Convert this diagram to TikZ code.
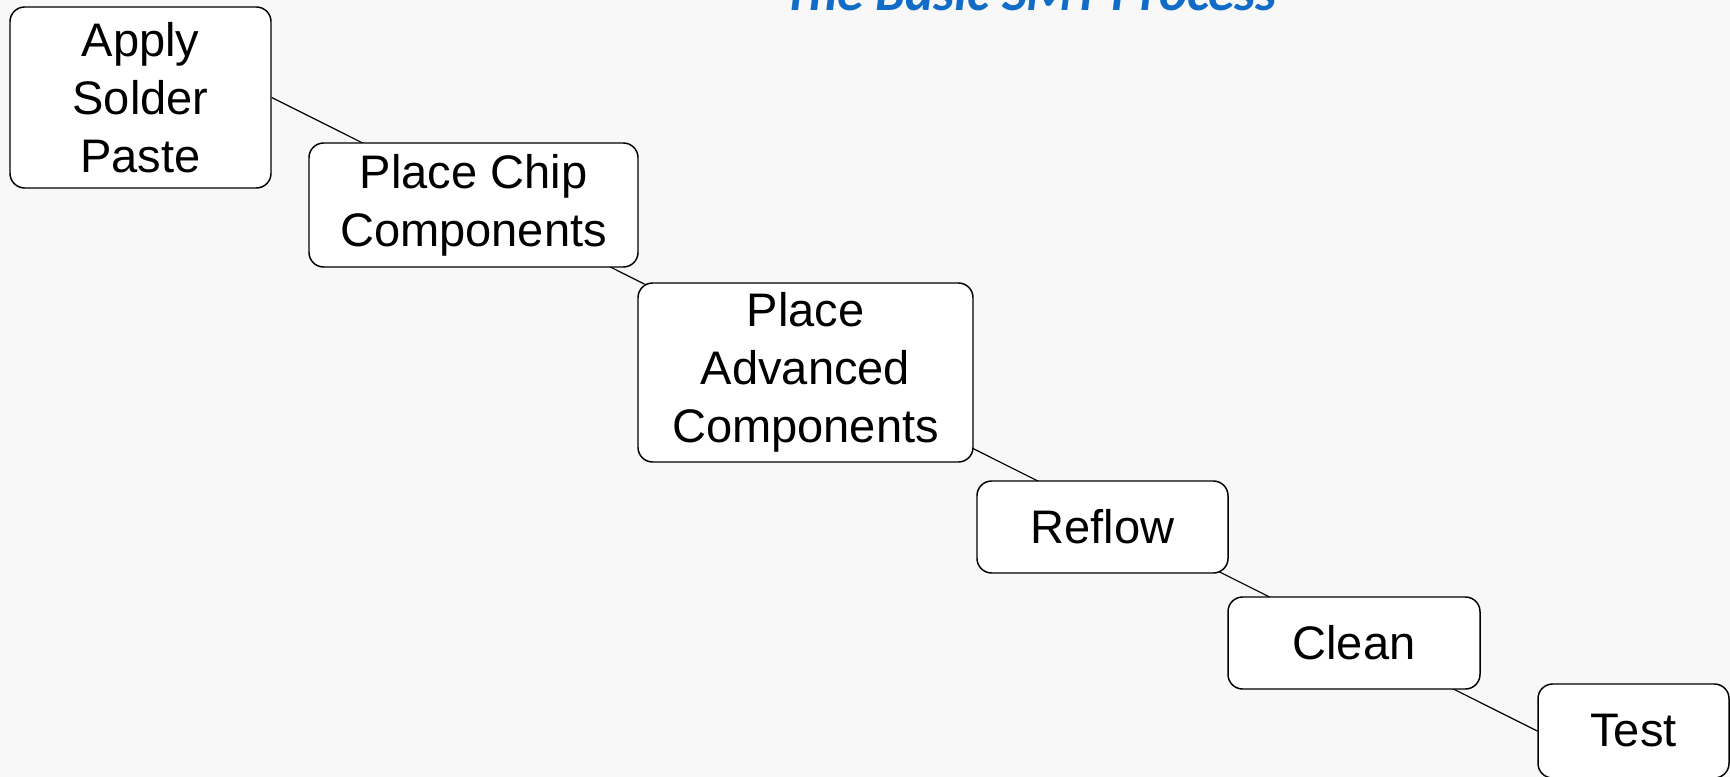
\documentclass[tikz,border=0pt]{standalone}
\usepackage{fontspec}
\setmainfont{Liberation Sans}
\newfontfamily\titlefont{Carlito}
\usetikzlibrary{backgrounds}
\definecolor{pagebg}{RGB}{248,248,248}
\definecolor{titleblue}{RGB}{17,108,200}

\begin{document}
\begin{tikzpicture}[x=0.75pt,y=-0.75pt,
  stepbox/.style={draw=black, line width=1.1pt, fill=white, rounded corners=11pt,
    align=center, inner sep=0pt, font=\fontsize{35.3}{43.5}\selectfont},
  link/.style={draw=black, line width=0.9pt}]
\useasboundingbox (0,0) rectangle (1730,777);
\clip (0,0) rectangle (1730,777);

% heading, partly above the top edge
\node[anchor=base, text=titleblue,
  font=\titlefont\bfseries\itshape\fontsize{40}{48}\selectfont] (title) at (1030,10.5)
  {The Basic SMT Process};

% process steps
\node[stepbox, minimum width=195.75pt, minimum height=135.75pt] (b1) at (140.5,97.5)
  {Apply\\Solder\\Paste};
\node[stepbox, minimum width=246.75pt, minimum height=93pt] (b2) at (473.5,205)
  {Place Chip\\Components};
\node[stepbox, minimum width=251.25pt, minimum height=134.25pt] (b3) at (805.5,372.5)
  {Place\\Advanced\\Components};
\node[stepbox, minimum width=188.25pt, minimum height=69pt] (b4) at (1102.5,527)
  {Reflow};
\node[stepbox, minimum width=189pt, minimum height=69pt] (b5) at (1354,643)
  {Clean};
\node[stepbox, minimum width=143.25pt, minimum height=70.5pt] (b6) at (1633.5,731)
  {Test};

% page tint and the diagonal line running behind the steps
\begin{scope}[on background layer]
  \fill[pagebg] (0,0) rectangle (1730,777);
  \draw[link] (b1.east) -- (b6.west);
\end{scope}
\end{tikzpicture}
\end{document}
